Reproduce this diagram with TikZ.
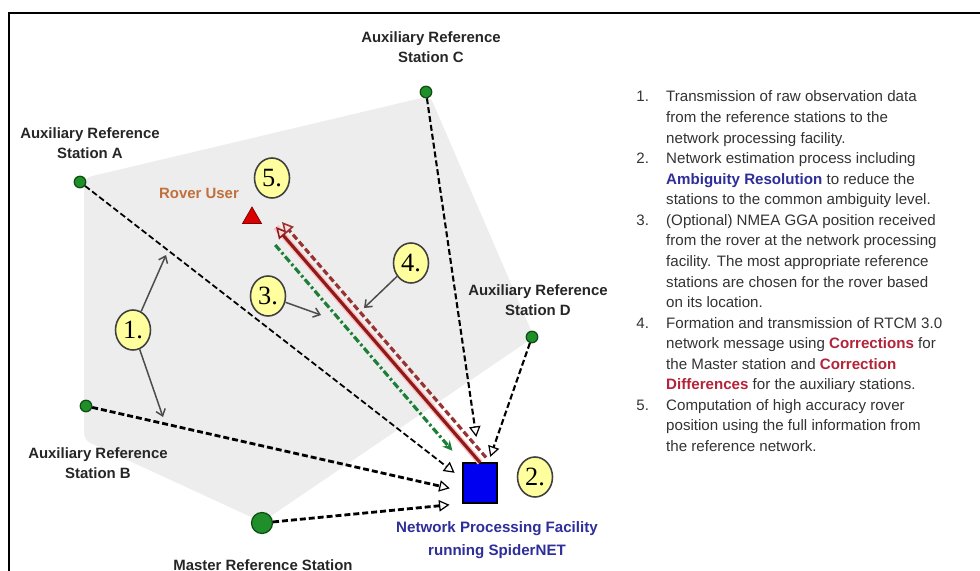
\documentclass[tikz,border=0pt]{standalone}
\usepackage{fontspec}
\setmainfont{Liberation Sans}
\newfontfamily\numfont{Liberation Serif}
\usepackage{xcolor}
\usetikzlibrary{arrows.meta,shapes.geometric}

\definecolor{stngreen}{HTML}{1F8F2A}
\definecolor{stnedge}{HTML}{0D4D12}
\definecolor{tagyellow}{HTML}{FFFF9E}
\definecolor{polygray}{HTML}{EDEDED}
\definecolor{corrred}{HTML}{8E1B1B}
\definecolor{ggagreen}{HTML}{1C7F35}
\definecolor{npfblue}{HTML}{0000F0}
\definecolor{labblue}{HTML}{2E2E9A}
\definecolor{roverbrown}{HTML}{C0703C}
\definecolor{txtgray}{HTML}{333333}
\definecolor{hilred}{HTML}{B3243A}

\begin{document}
\begin{tikzpicture}[x=0.02cm,y=-0.02cm,>=Stealth,
  station/.style={circle,draw=stnedge,fill=stngreen,line width=0.7pt,minimum size=0.23cm,inner sep=0},
  lab/.style={font=\fontsize{8.5}{11.3}\selectfont\bfseries,text=black!85,align=center,inner sep=0},
  tag/.style={ellipse,draw=black!75,fill=tagyellow,line width=0.9pt,minimum width=0.7cm,minimum height=0.8cm,inner sep=0,font=\numfont\fontsize{15}{15}\selectfont},
  feed/.style={line width=1.2pt,dash pattern=on 3.4pt off 1.7pt,-{Triangle[fill=white,length=6pt,width=6.5pt,line width=0.7pt]}},
  corrhalo/.style={draw=red!25,line width=3.4pt},
  corrline/.style={draw=corrred,line width=1.8pt,-{Triangle[fill=red!15,length=6.5pt,width=6.5pt,line width=0.9pt]}},
  corrdash/.style={draw=corrred!90,line width=1.8pt,dash pattern=on 3.5pt off 1.8pt,-{Triangle[fill=red!15,length=6.5pt,width=6.5pt,line width=0.9pt]}},
  gga/.style={draw=ggagreen,line width=1.8pt,dash pattern=on 4pt off 1.6pt on 1.4pt off 1.6pt,-{Stealth[length=5.5pt,width=5.5pt]}},
  callout/.style={draw=black!70,line width=0.85pt,-{Straight Barb[length=3.5pt,width=5.5pt]}}
]
\useasboundingbox (0,0) rectangle (980,571);
\fill[white] (0,0) rectangle (980,571);
\draw[line width=1.7pt] (9,571) -- (9,13) -- (980,13);

% network area
\fill[polygray,rounded corners=4pt] (84,178) -- (430,96) -- (534,337) -- (262,522) -- (84,440) -- cycle;

% stations
\node[station] (sa) at (80,182) {};
\node[station] (sc) at (426,92) {};
\node[station] (sd) at (532,337) {};
\node[station] (sb) at (86,406) {};
\node[station,minimum size=0.42cm] (sm) at (262,523) {};
\node[draw=black,fill=npfblue,minimum width=0.68cm,minimum height=0.8cm,inner sep=0,line width=0.6pt] (npf) at (480,483) {};
\node[regular polygon,regular polygon sides=3,draw=red!50!black,fill=red!85!black,minimum size=0.44cm,inner sep=0] (rover) at (252,218) {};

\node[lab] (la) at (90,143) {Auxiliary Reference\\Station A};
\node[lab] (lc) at (431,47) {Auxiliary Reference\\Station C};
\node[lab] (ld) at (538,300) {Auxiliary Reference\\Station D};
\node[lab] (lb) at (98,463) {Auxiliary Reference\\Station B};
\node[lab] (lm) at (263,565) {Master Reference Station};
\node[lab,text=roverbrown] (lr) at (199,193) {Rover User};
\node[lab,text=labblue,font=\fontsize{8.6}{13}\selectfont\bfseries] (ln) at (497,540) {Network Processing Facility\\running SpiderNET};

% raw data to the facility
\draw[feed,line width=1pt,shorten >=5.7pt] (sa) -- (npf.167);
\draw[feed,line width=1.6pt,shorten >=7.4pt] (sb) -- (npf.205);
\draw[feed,line width=1.6pt,shorten >=7.4pt] (sm) -- (npf.south west);
\draw[feed,shorten >=14.7pt] (sc) -- (npf.north);
\draw[feed,shorten >=3.4pt] (sd) -- (npf.68);

% rover links
\coordinate (rvtip) at (276,227);
\draw[gga,shorten <=15.9pt,shorten >=8.8pt] (rover) -- (npf.north west);
\draw[corrhalo] (npf.north) -- (rvtip);
\draw[corrline] (npf.north) -- (rvtip);
\draw[corrdash] ([shift={(6,-5)}]npf.north) -- ([shift={(6,-5)}]rvtip);

% step tags
\node[tag] (t1) at (133,330) {1.};
\node[tag] (t2) at (535,477) {2.};
\node[tag] (t3) at (268,296) {3.};
\node[tag] (t4) at (411,263) {4.};
\node[tag] (t5) at (272,178) {5.};

\coordinate (c1up) at (166,255);
\coordinate (c1dn) at (163,417);
\coordinate (c3) at (321,315);
\coordinate (c4) at (364,308);
\draw[callout] (t1) -- (c1up);
\draw[callout] (t1) -- (c1dn);
\draw[callout] (t3) -- (c3);
\draw[callout] (t4) -- (c4);

% legend
\node[anchor=base west,inner sep=0,text=txtgray,font=\fontsize{8.6}{11.7}\selectfont] (steps) at (636,102) {%
\begin{tabular}[t]{@{}p{17pt}@{}l@{}}
1. & Transmission of raw observation data\\
   & from the reference stations to the\\
   & network processing facility.\\
2. & Network estimation process including\\
   & {\bfseries\color{labblue}Ambiguity Resolution} to reduce the\\
   & stations to the common ambiguity level.\\
3. & (Optional) NMEA GGA position received\\
   & from the rover at the network processing\\
   & facility. The most appropriate reference\\
   & stations are chosen for the rover based\\
   & on its location.\\
4. & Formation and transmission of RTCM 3.0\\
   & network message using {\bfseries\color{hilred}Corrections} for\\
   & the Master station and {\bfseries\color{hilred}Correction}\\
   & {\bfseries\color{hilred}Differences} for the auxiliary stations.\\
5. & Computation of high accuracy rover\\
   & position using the full information from\\
   & the reference network.
\end{tabular}};
\end{tikzpicture}
\end{document}
